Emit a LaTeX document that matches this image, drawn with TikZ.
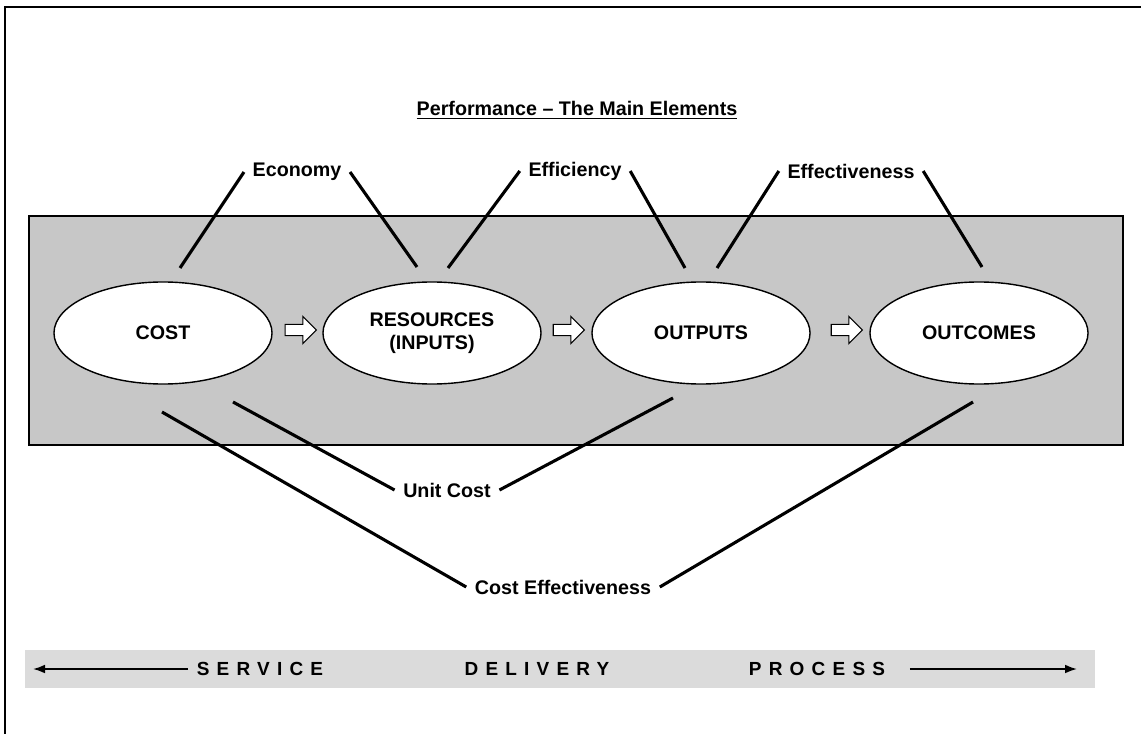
\documentclass[tikz,border=0pt]{standalone}
\usepackage{fontspec}
\setmainfont{Liberation Sans}
\newfontfamily\spacedfont[LetterSpace=38]{Liberation Sans}
\usetikzlibrary{%
    shapes.geometric,shapes.arrows,%
    arrows.meta
}
\definecolor{boxgray}{gray}{0.78}
\definecolor{stripgray}{gray}{0.86}

\begin{document}
\begin{tikzpicture}[x=0.025cm,y=-0.025cm,
    every node/.style={font={\fontsize{14}{16}\selectfont\bfseries}},
    stage/.style={ellipse,draw,line width=1pt,fill=white,align=center,
        minimum width=5.45cm,minimum height=2.55cm,inner sep=0pt},
    flow/.style={single arrow,draw,line width=0.8pt,fill=white,
        minimum height=0.78cm,inner xsep=0pt,inner ysep=0.125cm,
        single arrow head extend=0.2cm,single arrow head indent=0pt},
    measure/.style={inner sep=6pt},
    link/.style={line width=2.2pt},
    phase/.style={font={\fontsize{13.5}{15}\selectfont\bfseries\spacedfont},inner sep=6pt}]
\useasboundingbox (0,0) rectangle (1141,734);
\draw[line width=1.4pt](5,734)--(5,7)--(1141,7);

% shaded band and the four stages
\draw[fill=boxgray,line width=1pt](29,216) rectangle (1123,445);
\node[stage] (cost) at (163,333) {COST};
\node[stage] (resources) at (432,333) {RESOURCES\\(INPUTS)};
\node[stage] (outputs) at (701,333) {OUTPUTS};
\node[stage] (outcomes) at (979,333) {OUTCOMES};
\node[flow] (f1) at (298,330) {};
\node[flow] (f2) at (566,330) {};
\node[flow] (f3) at (844,330) {};

\node (title) at (577,110) {\underline{Performance -- The Main Elements}};

% measures above the band
\node[measure] (economy) at (297,172) {Economy};
\node[measure] (efficiency) at (575,171) {Efficiency};
\node[measure] (effectiveness) at (851,171) {Effectiveness};
\coordinate (eco-a) at (180,268);
\coordinate (eco-b) at (417,267);
\coordinate (eff-a) at (448,268);
\coordinate (eff-b) at (685,268);
\coordinate (effv-a) at (717,268);
\coordinate (effv-b) at (982,267);
\draw[link](economy.west)--(eco-a);
\draw[link](economy.east)--(eco-b);
\draw[link](efficiency.west)--(eff-a);
\draw[link](efficiency.east)--(eff-b);
\draw[link](effectiveness.west)--(effv-a);
\draw[link](effectiveness.east)--(effv-b);

% measures below the band
\node[measure] (unitcost) at (447,490) {Unit Cost};
\node[measure] (costeff) at (563,587) {Cost Effectiveness};
\coordinate (uc-a) at (233,402);
\coordinate (uc-b) at (673,398);
\coordinate (ce-a) at (162,412);
\coordinate (ce-b) at (973,402);
\draw[link](uc-a)--(unitcost.west);
\draw[link](unitcost.east)--(uc-b);
\draw[link](ce-a)--(costeff.west);
\draw[link](costeff.east)--(ce-b);

% delivery strip
\fill[stripgray](25,650) rectangle (1095,688);
\node[phase] (service) at (260,669) {SERVICE};
\node[phase] (delivery) at (537,669) {DELIVERY};
\node[phase] (process) at (817,669) {PROCESS};
\coordinate (left-tip) at (33,669);
\coordinate (right-tip) at (1077,669);
\draw[line width=1.2pt,-{Latex[length=3mm,width=2.2mm]}](service.west)--(left-tip);
\draw[line width=1.2pt,-{Latex[length=3mm,width=2.2mm]},shorten <=0.4cm](process.east)--(right-tip);

\end{tikzpicture}
\end{document}
